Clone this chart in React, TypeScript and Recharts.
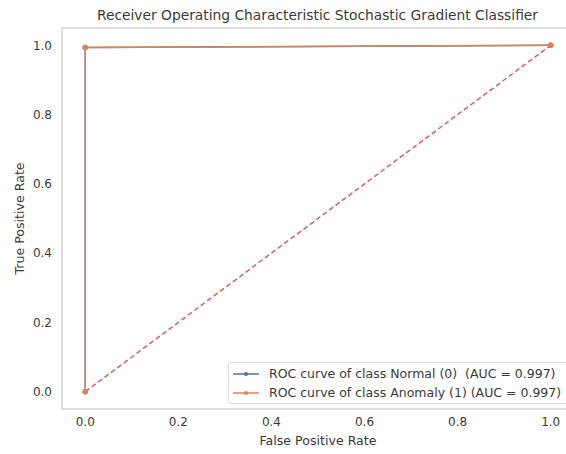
import React from "react"
import {
  LineChart,
  Line,
  XAxis,
  YAxis,
  ReferenceArea,
  Label,
} from "recharts"

// ROC points (false positive rate / true positive rate)
const fpr = [0, 0, 1]
const tprNormal = [0, 0.994, 1]
const tprAnomaly = [0, 0.994, 1]
const chanceFpr = [0, 1]
const chanceTpr = [0, 1]
const ticks = [0, 0.2, 0.4, 0.6, 0.8, 1.0]

const seriesNames = [
  "ROC curve of class Normal (0)  (AUC = 0.997)",
  "ROC curve of class Anomaly (1) (AUC = 0.997)",
]

const COLORS = {
  normal: "#4c72b0",
  anomaly: "#dd8452",
  chance: "#d65f5f",
  frame: "#dedede",
  text: "#3a3a3a",
}

const FONT = "'DejaVu Sans', sans-serif"

const normalData = fpr.map((x, i) => ({ x, y: tprNormal[i] }))
const anomalyData = fpr.map((x, i) => ({ x, y: tprAnomaly[i] }))
const chanceData = chanceFpr.map((x, i) => ({ x, y: chanceTpr[i] }))

function LegendBox() {
  const rows = [
    { name: seriesNames[0], color: COLORS.normal },
    { name: seriesNames[1], color: COLORS.anomaly },
  ]
  return (
    <div
      style={{
        position: "absolute",
        left: 228,
        top: 362,
        background: "rgba(255,255,255,0.85)",
        border: "1px solid #dcdcdc",
        borderRadius: 3,
        padding: "1px 6px 1px 4px",
        fontFamily: FONT,
        fontSize: 12.5,
        color: COLORS.text,
      }}
    >
      {rows.map((r) => (
        <div key={r.name} style={{ display: "flex", alignItems: "center", height: 19 }}>
          <svg width={26} height={10} style={{ marginRight: 10 }}>
            <line x1={0} y1={5} x2={26} y2={5} stroke={r.color} strokeWidth={1.5} />
            <circle cx={13} cy={5} r={2} fill={r.color} />
          </svg>
          <span style={{ whiteSpace: "pre" }}>{r.name}</span>
        </div>
      ))}
    </div>
  )
}

export default function App() {
  return (
    <div
      style={{
        position: "absolute",
        left: 0,
        top: 0,
        width: 566,
        height: 454,
        overflow: "hidden",
        background: "#fff",
      }}
    >
      <div
        style={{
          position: "absolute",
          left: 62,
          width: 511,
          top: 7,
          textAlign: "center",
          fontFamily: FONT,
          fontSize: 13.8,
          color: COLORS.text,
        }}
      >
        Receiver Operating Characteristic Stochastic Gradient Classifier
      </div>
      <LineChart
        width={574}
        height={454}
        margin={{ top: 28, right: 0, bottom: 0, left: 0 }}
      >
        <ReferenceArea
          x1={-0.05}
          x2={1.05}
          y1={-0.05}
          y2={1.05}
          fill="none"
          stroke={COLORS.frame}
          strokeWidth={2}
          ifOverflow="visible"
        />
        <XAxis
          type="number"
          dataKey="x"
          domain={[-0.05, 1.05]}
          ticks={ticks}
          tickFormatter={(v: number) => v.toFixed(1)}
          tickLine={false}
          tickSize={0}
          tickMargin={8}
          axisLine={false}
          height={45}
          tick={{ fill: COLORS.text, fontSize: 12, fontFamily: FONT }}
        >
          <Label
            value="False Positive Rate"
            position="insideBottom"
            offset={9}
            style={{ fill: COLORS.text, fontSize: 12.6, fontFamily: FONT }}
          />
        </XAxis>
        <YAxis
          type="number"
          dataKey="y"
          domain={[-0.05, 1.05]}
          ticks={ticks}
          tickFormatter={(v: number) => v.toFixed(1)}
          tickLine={false}
          tickSize={0}
          tickMargin={10}
          axisLine={false}
          width={62}
          tick={{ fill: COLORS.text, fontSize: 12, fontFamily: FONT }}
        >
          <Label
            content={(props: any) => {
              const vb = props.viewBox || {}
              const cx = 19
              const cy = (vb.y ?? 28) + (vb.height ?? 381) / 2
              return (
                <text
                  x={cx}
                  y={cy}
                  transform={`rotate(-90, ${cx}, ${cy})`}
                  textAnchor="middle"
                  dominantBaseline="central"
                  fill={COLORS.text}
                  fontSize={12.6}
                  fontFamily={FONT}
                >
                  True Positive Rate
                </text>
              )
            }}
          />
        </YAxis>
        <Line
          data={normalData}
          dataKey="y"
          name={seriesNames[0]}
          type="linear"
          stroke={COLORS.normal}
          strokeWidth={1.5}
          dot={{ r: 2, fill: COLORS.normal, stroke: COLORS.normal }}
          isAnimationActive={false}
        />
        <Line
          data={anomalyData}
          dataKey="y"
          name={seriesNames[1]}
          type="linear"
          stroke={COLORS.anomaly}
          strokeWidth={1.5}
          dot={{ r: 2, fill: COLORS.anomaly, stroke: COLORS.anomaly }}
          isAnimationActive={false}
        />
        <Line
          data={chanceData}
          dataKey="y"
          type="linear"
          stroke={COLORS.chance}
          strokeWidth={1.5}
          strokeDasharray="5 3"
          dot={false}
          isAnimationActive={false}
        />
      </LineChart>
      <LegendBox />
    </div>
  )
}
